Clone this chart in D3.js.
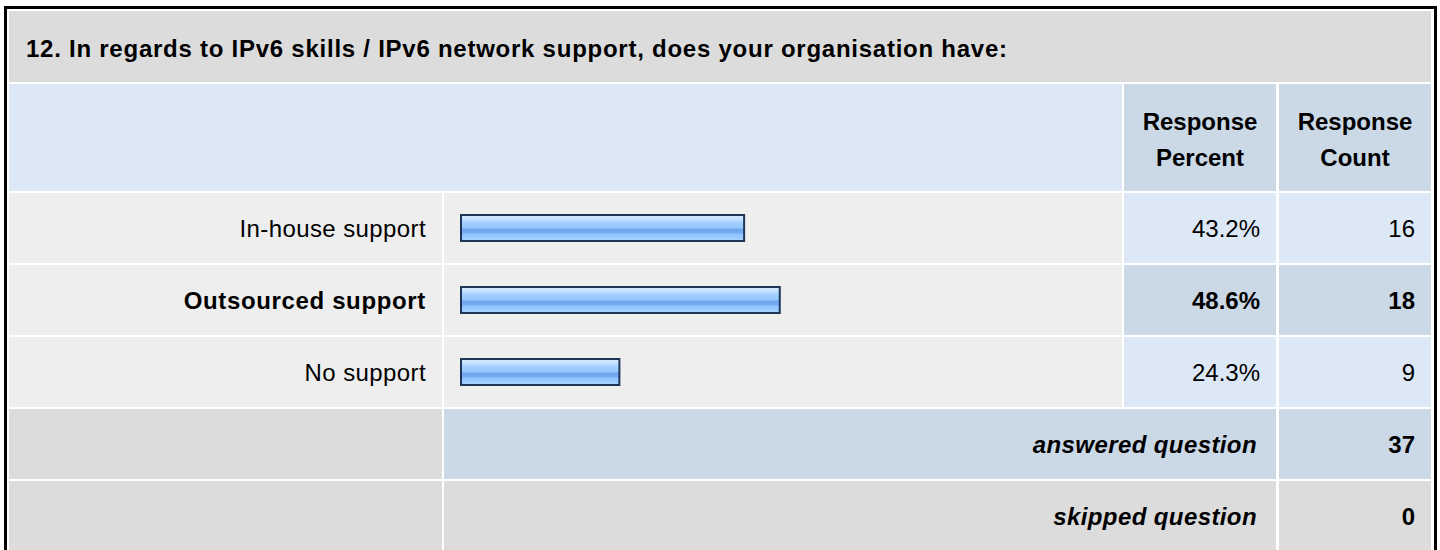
<!DOCTYPE html>
<html>
<head>
<meta charset="utf-8">
<script src="https://cdn.jsdelivr.net/npm/d3@7"></script>
<style>
  body { margin: 0; background: #fff; }
  text { font-family: 'Liberation Sans', Arial, sans-serif; font-size: 24px; fill: #000; }
</style>
</head>
<body>
<div id="chart"></div>
<script>
var question = '12. In regards to IPv6 skills / IPv6 network support, does your organisation have:'
var header_labels = [['Response', 'Percent'], ['Response', 'Count']]
var categories = ['In-house support', 'Outsourced support', 'No support']
var percents = [43.2, 48.6, 24.3]
var counts = [16, 18, 9]
var summary_labels = ['answered question', 'skipped question']
var summary_values = [37, 0]

var w = 1440
var h = 550

// column edges
var col_label = [9, 442]
var col_bar = [444, 1122]
var col_pct = [1124, 1276]
var col_cnt = [1279, 1431]

var svg = d3.select('#chart').append('svg')
  .attr('width', w)
  .attr('height', h)

var defs = svg.append('defs')
var grad = defs.append('linearGradient')
  .attr('id', 'bar_fill')
  .attr('x1', 0).attr('y1', 0).attr('x2', 0).attr('y2', 1)
var stops = [
  [0, '#d9edff'], [0.18, '#c2e0ff'], [0.3, '#a4cfff'], [0.5, '#95c6ff'],
  [0.55, '#6fa7ef'], [0.68, '#74acf2'], [0.74, '#90c3ff'], [1, '#a6d2ff']
]
stops.forEach(function (s) {
  grad.append('stop').attr('offset', s[0]).attr('stop-color', s[1])
})

function cell (x0, x1, y0, y1, fill) {
  svg.append('rect')
    .attr('x', x0)
    .attr('y', y0)
    .attr('width', x1 - x0)
    .attr('height', y1 - y0)
    .attr('fill', fill)
}

// title row
cell(col_label[0], col_cnt[1], 11, 82, '#dcdcdc')
svg.append('text').text(question)
  .attr('x', 26)
  .attr('y', 57)
  .style('font-weight', 'bold')
  .style('letter-spacing', '0.75px')

// header row
cell(col_label[0], col_bar[1], 84, 191, '#dce8f5')
cell(col_pct[0], col_pct[1], 84, 191, '#cbd8e6')
cell(col_cnt[0], col_cnt[1], 84, 191, '#cbd8e6')
;[col_pct, col_cnt].forEach(function (col, i) {
  header_labels[i].forEach(function (line, j) {
    svg.append('text').text(line)
      .attr('x', (col[0] + col[1]) / 2)
      .attr('y', 130 + j * 36)
      .attr('text-anchor', 'middle')
      .style('font-weight', 'bold')
  })
})

var row_keys = categories.concat(summary_labels)
var y = d3.scaleBand().domain(row_keys).range([193, 551]).paddingInner(2 / 72)
var x = d3.scaleLinear().domain([0, 100]).range([460, 1120])

var top_idx = d3.maxIndex(counts)

categories.forEach(function (cat, idx) {
  var y0 = y(cat)
  var y1 = y0 + y.bandwidth()
  var mid = y0 + y.bandwidth() / 2
  var bold = idx === top_idx
  var data_fill = bold ? '#cbd8e6' : '#dce8f5'
  cell(col_label[0], col_label[1], y0, y1, '#eeeeee')
  cell(col_bar[0], col_bar[1], y0, y1, '#eeeeee')
  cell(col_pct[0], col_pct[1], y0, y1, data_fill)
  cell(col_cnt[0], col_cnt[1], y0, y1, data_fill)

  svg.append('rect')
    .attr('x', x(0) + 1)
    .attr('y', mid - 14 + 1)
    .attr('width', x(percents[idx]) - x(0) - 2)
    .attr('height', 26)
    .attr('fill', 'url(#bar_fill)')
    .attr('stroke', '#1d3557')
    .attr('stroke-width', 2)

  svg.append('text').text(cat)
    .attr('x', 426)
    .attr('y', mid + 8.5)
    .attr('text-anchor', 'end')
    .style('font-weight', bold ? 'bold' : 'normal')
    .style('letter-spacing', bold ? '0.65px' : '0.4px')
  svg.append('text').text(percents[idx].toFixed(1) + '%')
    .attr('x', 1260)
    .attr('y', mid + 8.5)
    .attr('text-anchor', 'end')
    .style('font-weight', bold ? 'bold' : 'normal')
  svg.append('text').text(counts[idx])
    .attr('x', 1415)
    .attr('y', mid + 8.5)
    .attr('text-anchor', 'end')
    .style('font-weight', bold ? 'bold' : 'normal')
})

summary_labels.forEach(function (lab, idx) {
  var y0 = y(lab)
  var y1 = y0 + y.bandwidth()
  var mid = y0 + y.bandwidth() / 2
  var fill = idx === 0 ? '#cbd8e6' : '#dcdcdc'
  cell(col_label[0], col_label[1], y0, y1, '#dcdcdc')
  cell(col_bar[0], col_pct[1], y0, y1, fill)
  cell(col_cnt[0], col_cnt[1], y0, y1, fill)
  svg.append('text').text(lab)
    .attr('x', 1257)
    .attr('y', mid + 8.5)
    .attr('text-anchor', 'end')
    .style('font-weight', 'bold')
    .style('font-style', 'italic')
    .style('letter-spacing', '0.4px')
  svg.append('text').text(summary_values[idx])
    .attr('x', 1415)
    .attr('y', mid + 8.5)
    .attr('text-anchor', 'end')
    .style('font-weight', 'bold')
})

// outer frame
svg.append('rect')
  .attr('x', 5.5)
  .attr('y', 7.5)
  .attr('width', 1430)
  .attr('height', 600)
  .attr('fill', 'none')
  .attr('stroke', '#000')
  .attr('stroke-width', 3)
</script>
</body>
</html>
